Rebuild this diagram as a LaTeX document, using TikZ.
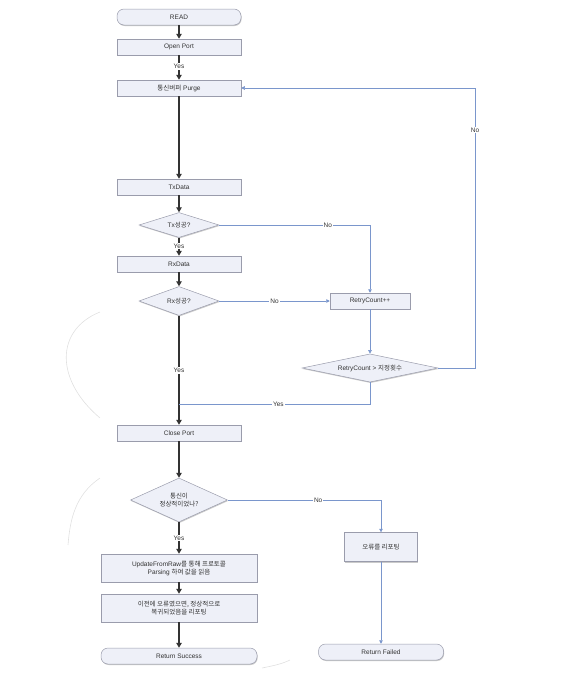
\documentclass[tikz,border=0pt]{standalone}
\usepackage{fontspec}
\setmainfont{Liberation Sans}
\newfontfamily\kr{Noto Sans CJK KR}
\usetikzlibrary{shapes.geometric,arrows.meta,shadows}
\definecolor{boxfill}{HTML}{EEF0F8}
\definecolor{boxline}{HTML}{9A9CAC}
\definecolor{flowblue}{HTML}{7A96CC}
\definecolor{flowdark}{HTML}{333333}
\tikzset{
  every node/.style={font=\fontsize{6.5}{8}\selectfont, text=black!80},
  shad/.style={drop shadow={shadow xshift=0.6pt, shadow yshift=-1pt, fill=black!35, opacity=0.6}},
  procbox/.style={draw=boxline, fill=boxfill, line width=0.5pt, minimum width=124pt, minimum height=16pt, inner sep=1pt, shad},
  widebox/.style={draw=boxline, fill=boxfill, line width=0.5pt, minimum width=156pt, minimum height=28pt, inner sep=1pt, align=center, shad},
  termbox/.style={draw=boxline, fill=boxfill, line width=0.5pt, rounded corners=7pt, minimum height=16pt, inner sep=1pt, shad},
  decbox/.style={draw=boxline, fill=boxfill, line width=0.5pt, diamond, aspect=3, inner sep=0pt, align=center, shad},
  mainarrow/.style={draw=flowdark, line width=1.3pt, -{Triangle[width=5.5pt,length=5pt]}},
  mainline/.style={draw=flowdark, line width=1.3pt},
  bluearrow/.style={draw=flowblue, line width=0.5pt, -{Triangle[width=3.5pt,length=3.5pt]}},
  blueline/.style={draw=flowblue, line width=0.5pt},
  lbl/.style={fill=white, inner sep=1pt, font=\fontsize{6.5}{8}\selectfont},
  faint/.style={draw=black!12, line width=0.6pt}
}
\begin{document}
\begin{tikzpicture}[x=1pt, y=-1pt]
\useasboundingbox (0,0) rectangle (572,680);

% faint curves
\draw[faint] (100,312) .. controls (55,330) and (55,380) .. (100,418);
\draw[faint] (100,478) .. controls (75,495) and (70,520) .. (68,545);
\draw[faint] (262,668) .. controls (272,666) and (282,664) .. (290,660);

% main column
\node[termbox, minimum width=124pt] (read) at (179,17) {READ};
\node[procbox] (open) at (179,47) {Open Port};
\node[procbox] (purge) at (179,88) {{\kr 통신버퍼} Purge};
\node[procbox] (tx) at (179,187) {TxData};
\node[decbox, minimum width=80pt, minimum height=25pt] (txok) at (179,225) {Tx{\kr 성공}?};
\node[procbox] (rx) at (179,264) {RxData};
\node[decbox, minimum width=80pt, minimum height=29pt] (rxok) at (179,301) {Rx{\kr 성공}?};
\node[procbox, minimum width=80pt] (retry) at (370,301) {RetryCount++};
\node[decbox, minimum width=136pt, minimum height=28pt] (rcheck) at (370,368) {RetryCount \textgreater{} {\kr 지정횟수}};
\node[procbox] (close) at (179,433) {Close Port};
\node[decbox, minimum width=97pt, minimum height=44pt] (commok) at (179,500) {{\kr 통신이}\\{\kr 정상적이었나?}};
\node[widebox] (update) at (179,568) {UpdateFromRaw{\kr 를 통해 프로토콜}\\Parsing {\kr 하여 값을 읽음}};
\node[widebox] (prev) at (179,608) {{\kr 이전에 오류였으면, 정상적으로}\\{\kr 복귀되었음을 리포팅}};
\node[termbox, minimum width=156pt] (succ) at (179,656) {Return Success};
\node[procbox, minimum width=73pt, minimum height=29pt] (err) at (381,547) {{\kr 오류를 리포팅}};
\node[termbox, minimum width=125pt] (fail) at (381,652) {Return Failed};

\coordinate (c1) at (370,225);
\coordinate (c2) at (475,368);
\coordinate (c3) at (475,88);
\coordinate (c4) at (370,404);
\coordinate (c5) at (179,404);
\coordinate (c6) at (381,500);

% main flow
\draw[mainarrow] (read) -- (open);
\draw[mainarrow] (open) -- node[lbl, pos=0.45] {Yes} (purge);
\draw[mainarrow] (purge) -- (tx);
\draw[mainarrow] (tx) -- (txok);
\draw[mainarrow] (txok) -- node[lbl, pos=0.45] {Yes} (rx);
\draw[mainarrow] (rx) -- (rxok);
\draw[mainarrow] (rxok) -- node[lbl, pos=0.5] {Yes} (close);
\draw[mainarrow] (close) -- (commok);
\draw[mainarrow] (commok) -- node[lbl, pos=0.5] {Yes} (update);
\draw[mainarrow] (update) -- (prev);
\draw[mainarrow] (prev) -- (succ);

% retry branch
\draw[bluearrow] (txok.east) -- node[lbl, pos=0.72] {No} (c1) -- (retry.north);
\draw[bluearrow] (rxok.east) -- node[lbl, pos=0.5] {No} (retry.west);
\draw[bluearrow] (retry) -- (rcheck);
\draw[bluearrow] (rcheck.east) -- (c2) -- node[lbl, pos=0.85] {No} (c3) -- (purge.east);
\draw[blueline] (rcheck.south) -- (c4) -- node[lbl, pos=0.48] {Yes} (c5);

% failure branch
\draw[bluearrow] (commok.east) -- node[lbl, pos=0.59] {No} (c6) -- (err.north);
\draw[bluearrow] (err) -- (fail);
\end{tikzpicture}
\end{document}
